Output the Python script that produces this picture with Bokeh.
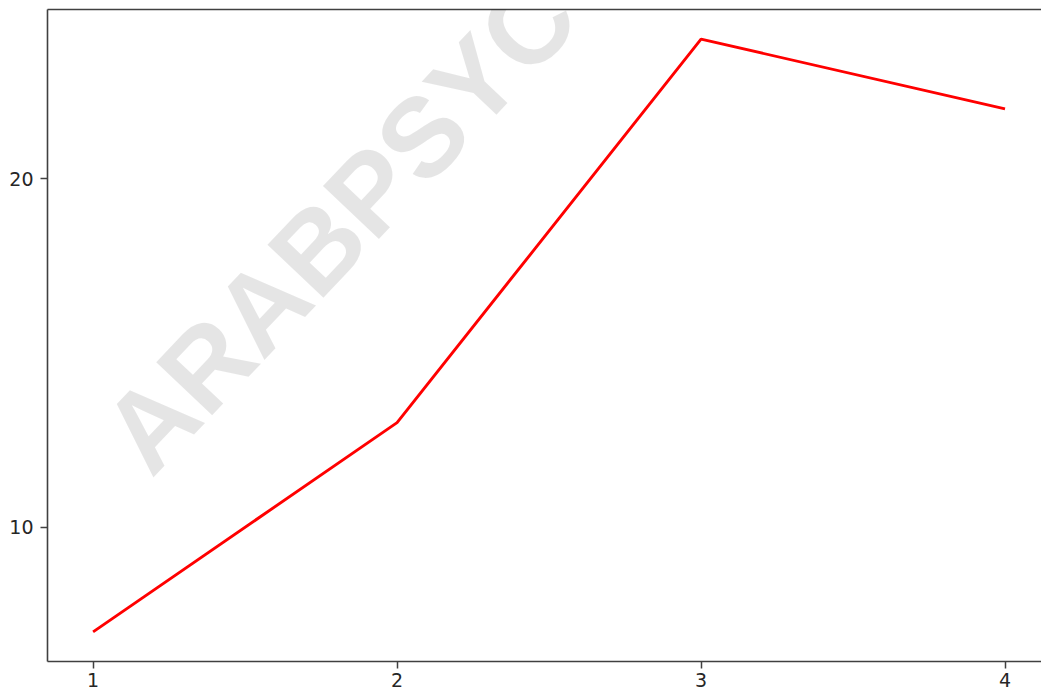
from bokeh.plotting import figure
from bokeh.models import Range1d, FixedTicker, LinearAxis, Label
from bokeh.embed import file_html
from bokeh.resources import INLINE

# data
x_vals = [1, 2, 3, 4]
y_vals = [7, 13, 24, 22]
x_ticks = [1, 2, 3, 4]
y_ticks = [10, 20]
watermark = "ARABPSYC"

p = figure(width=1041, height=690, output_backend="svg", toolbar_location=None,
           x_range=Range1d(0.85, 4.12), y_range=Range1d(6.15, 24.85),
           min_border_left=47, min_border_right=0, min_border_top=9, min_border_bottom=29)
p.outline_line_color = None
p.xgrid.visible = False
p.ygrid.visible = False
p.background_fill_color = "white"
p.border_fill_color = "white"

wm = Label(x=1.10, y=12.13, text=watermark, angle=46.6, angle_units="deg",
           text_font="Liberation Sans", text_font_style="bold", text_font_size="112px",
           text_color="black", text_alpha=0.1, text_align="left", text_baseline="alphabetic",
           level="annotation")
p.add_layout(wm)

p.line(x_vals, y_vals, line_color="#ff0000", line_width=2.9)

spine = "#404040"
for ax, ticks in ((p.xaxis[0], x_ticks), (p.yaxis[0], y_ticks)):
    ax.ticker = FixedTicker(ticks=ticks)
    ax.axis_line_color = spine
    ax.axis_line_width = 1.6
    ax.major_tick_line_color = spine
    ax.major_tick_line_width = 1.5
    ax.major_tick_out = 7
    ax.major_tick_in = 0
    ax.minor_tick_line_color = None
    ax.major_label_text_font = "DejaVu Sans"
    ax.major_label_text_font_size = "19px"
    ax.major_label_text_color = "#262626"
p.xaxis.major_label_standoff = 4
p.yaxis.major_label_standoff = 7

top = LinearAxis(ticker=FixedTicker(ticks=[]), axis_line_color=spine, axis_line_width=1.6,
                 major_tick_line_color=None, minor_tick_line_color=None,
                 major_label_text_font_size="0px")
p.add_layout(top, "above")

open("out.html", "w").write(file_html(p, INLINE))
